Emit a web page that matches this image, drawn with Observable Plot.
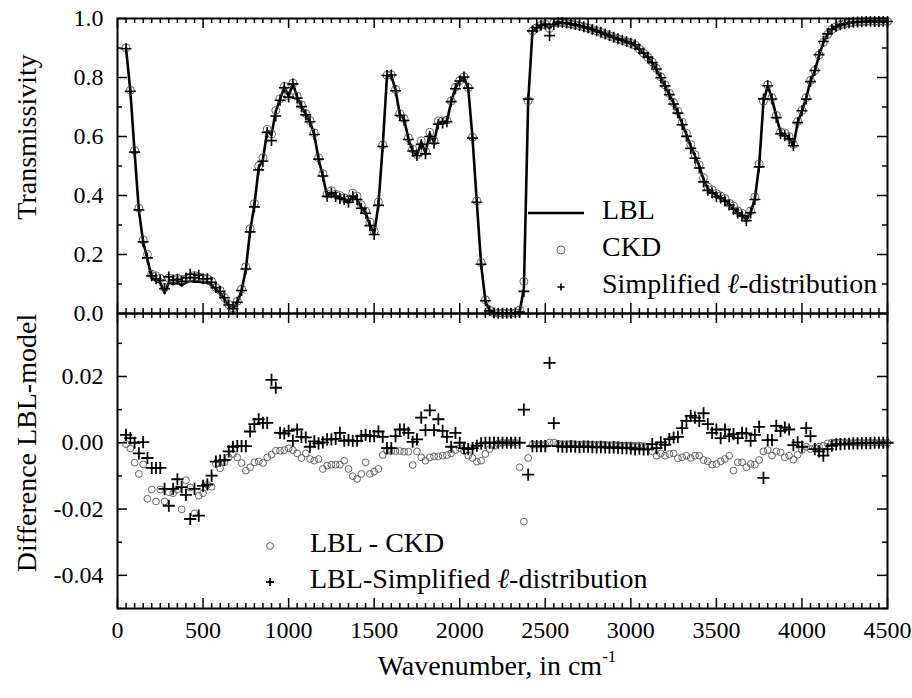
<!DOCTYPE html>
<html><head><meta charset="utf-8">
<script src="https://cdn.jsdelivr.net/npm/d3@7"></script>
<script src="https://cdn.jsdelivr.net/npm/@observablehq/plot@0.6"></script>
<style>
html,body{margin:0;padding:0;background:#fff;}
#chart{width:912px;height:698px;position:relative;overflow:hidden;background:#fff;}
#chart svg{display:block;}
#overlay{position:absolute;left:0;top:0;pointer-events:none;}
</style></head><body><div id="chart"></div>
<script>
// Wavenumber grid (cm-1)
const wavenumber = [
  50,75,100,125,150,175,200,225,250,275,
  300,325,350,375,400,425,450,475,500,525,
  550,575,600,625,650,675,700,725,750,775,
  800,825,850,875,900,925,950,975,1000,1025,
  1050,1075,1100,1125,1150,1175,1200,1225,1250,1275,
  1300,1325,1350,1375,1400,1425,1450,1475,1500,1525,
  1550,1575,1600,1625,1650,1675,1700,1725,1750,1775,
  1800,1825,1850,1875,1900,1925,1950,1975,2000,2025,
  2050,2075,2100,2125,2150,2175,2200,2225,2250,2275,
  2300,2325,2350,2375,2400,2425,2450,2475,2500,2525,
  2550,2575,2600,2625,2650,2675,2700,2725,2750,2775,
  2800,2825,2850,2875,2900,2925,2950,2975,3000,3025,
  3050,3075,3100,3125,3150,3175,3200,3225,3250,3275,
  3300,3325,3350,3375,3400,3425,3450,3475,3500,3525,
  3550,3575,3600,3625,3650,3675,3700,3725,3750,3775,
  3800,3825,3850,3875,3900,3925,3950,3975,4000,4025,
  4050,4075,4100,4125,4150,4175,4200,4225,4250,4275,
  4300,4325,4350,4375,4400,4425,4450,4475,4500
];
// LBL transmissivity
const lblTransmissivity = [
  0.90,0.755,0.547,0.348,0.243,0.184,0.12,0.11,0.105,0.07,
  0.105,0.10,0.105,0.096,0.105,0.11,0.108,0.108,0.105,0.105,
  0.096,0.082,0.07,0.048,0.026,0.015,0.037,0.077,0.15,0.28,
  0.367,0.494,0.522,0.62,0.605,0.686,0.726,0.768,0.737,0.779,
  0.734,0.703,0.675,0.649,0.607,0.523,0.466,0.398,0.41,0.398,
  0.393,0.387,0.378,0.398,0.387,0.359,0.342,0.30,0.27,0.37,
  0.568,0.805,0.807,0.757,0.675,0.658,0.593,0.551,0.536,0.581,
  0.545,0.61,0.581,0.649,0.649,0.652,0.717,0.765,0.788,0.80,
  0.762,0.593,0.376,0.167,0.043,0.009,0.002,0.001,0.001,0.001,
  0.001,0.002,0.005,0.085,0.717,0.957,0.968,0.976,0.98,0.966,
  0.985,0.986,0.985,0.983,0.981,0.978,0.975,0.971,0.967,0.962,
  0.957,0.952,0.946,0.941,0.935,0.93,0.925,0.92,0.915,0.909,
  0.895,0.881,0.867,0.85,0.827,0.799,0.771,0.743,0.712,0.681,
  0.644,0.607,0.568,0.534,0.50,0.455,0.423,0.412,0.40,0.393,
  0.385,0.37,0.356,0.342,0.334,0.317,0.342,0.389,0.502,0.717,
  0.773,0.728,0.669,0.613,0.607,0.596,0.568,0.647,0.686,0.731,
  0.788,0.822,0.875,0.918,0.946,0.963,0.972,0.978,0.982,0.985,
  0.987,0.988,0.989,0.99,0.99,0.99,0.99,0.99,0.99
];
// Difference LBL - CKD
const diffCKD = [
  -0.0004,-0.0017,-0.006,-0.0094,-0.0065,-0.0169,-0.0141,-0.0177,-0.0141,-0.0177,
  -0.0149,-0.0152,-0.0141,-0.0201,-0.0113,-0.0135,-0.0213,-0.016,-0.0152,-0.0127,
  -0.0133,-0.0064,-0.0077,-0.0059,-0.0044,-0.0034,-0.0044,-0.0061,-0.0084,-0.0074,
  -0.0059,-0.0056,-0.0061,-0.0044,-0.0036,-0.0024,-0.0024,-0.0022,-0.0017,-0.0022,
  -0.0032,-0.0046,-0.0032,-0.0049,-0.0054,-0.0049,-0.0079,-0.0069,-0.0066,-0.0066,
  -0.0066,-0.0054,-0.0079,-0.0101,-0.0109,-0.0094,-0.0059,-0.0094,-0.0087,-0.0079,
  -0.0037,-0.0024,-0.0025,-0.0025,-0.0025,-0.0027,-0.0027,-0.0067,-0.0026,-0.0044,
  -0.0054,-0.0044,-0.0041,-0.0041,-0.0039,-0.0037,-0.0032,-0.0022,-0.0016,-0.0024,
  -0.0039,-0.0046,-0.0057,-0.0054,-0.0034,-0.0019,-0.0009,-0.0002,0,0,
  0,0,-0.0074,-0.0238,-0.0046,-0.0006,-0.0006,-0.0006,-0.0006,0.0001,
  0.0001,-0.0003,-0.0004,-0.0004,-0.0003,-0.0004,-0.0005,-0.0004,-0.0004,-0.0005,
  -0.0006,-0.0005,-0.0006,-0.0007,-0.0006,-0.0007,-0.0008,-0.0008,-0.0008,-0.0009,
  -0.0008,-0.001,-0.0012,-0.0026,-0.0039,-0.0032,-0.0039,-0.0034,-0.0032,-0.0047,
  -0.0044,-0.0039,-0.0046,-0.0039,-0.0039,-0.0052,-0.0056,-0.0066,-0.0064,-0.0056,
  -0.0049,-0.0039,-0.0084,-0.0059,-0.0059,-0.0074,-0.0064,-0.0066,-0.0052,-0.0026,
  -0.0022,-0.0039,-0.0026,-0.0029,-0.0044,-0.0039,-0.0051,-0.0036,-0.0022,-0.0012,
  -0.0019,-0.0016,-0.0012,-0.0009,-0.0002,0.0001,0.0001,0.0001,0,0,
  0,0,0,0,0,0,0,0,0
];
// Difference LBL - Simplified l-distribution
const diffSimplified = [
  0.0024,0.0014,0.0000,-0.0032,0.0002,-0.0046,-0.0076,-0.0076,-0.0076,-0.0139,
  -0.019,-0.0139,-0.011,-0.0134,-0.0157,-0.023,-0.0139,-0.022,-0.013,-0.0126,
  -0.0099,-0.0057,-0.0054,-0.0052,-0.0026,-0.0012,-0.001,-0.001,-0.001,0.0034,
  0.0056,0.0071,0.006,0.006,0.019,0.0166,0.003,0.0028,0.0036,0.0006,
  0.004,0.0018,0.0016,-0.0012,0.0004,-0.0002,0.0001,0.001,0.001,0.0012,
  0.003,0.0006,0.0008,0.0006,0.0006,0.002,0.0024,0.002,0.002,0.0034,
  0.0018,-0.0016,-0.0016,0.002,0.004,0.004,0.003,0.0003,0.001,0.0076,
  0.0038,0.0098,0.0038,0.0071,0.0036,0.0018,-0.0012,0.003,0.0000,-0.0016,
  -0.0019,-0.0016,-0.0009,-0.0002,0,0,0,0,0,0,
  0,0,0,0.010,-0.0096,-0.001,-0.001,-0.001,-0.001,0.0241,
  0.0059,-0.001,-0.0012,-0.0012,-0.0011,-0.0012,-0.0013,-0.0012,-0.0012,-0.0013,
  -0.0014,-0.0013,-0.0014,-0.0015,-0.0014,-0.0015,-0.0016,-0.0016,-0.0017,-0.002,
  -0.0018,-0.002,-0.002,-0.0004,-0.0016,0.0001,-0.0006,0.0011,0.0016,0.0018,
  0.0044,0.0066,0.0081,0.0076,0.0066,0.0089,0.0056,0.003,0.004,0.0014,
  0.004,0.002,0.0026,0.0014,0.003,0.0028,0.0006,0.0024,0.0048,-0.0106,
  0.0008,0.0008,0.0051,0.0036,0.0046,0.004,-0.0007,0.0001,-0.0012,0.0044,
  0.002,-0.0019,-0.0026,-0.0039,-0.0019,-0.0009,-0.0005,-0.0004,-0.0003,-0.0003,
  -0.0002,-0.0002,-0.0001,-0.0001,-0.0001,0,0,0,0
];
// Axis ticks
const xTicks = [0,500,1000,1500,2000,2500,3000,3500,4000,4500];
const xMinorTicks = d3.range(0, 4501, 50).filter(v => v % 500 !== 0);
const transTicks = [0,0.2,0.4,0.6,0.8,1.0];
const transMinorTicks = [0.1,0.3,0.5,0.7,0.9];
const diffTicks = [-0.04,-0.02,0,0.02];
const diffMinorTicks = [-0.05,-0.03,-0.01,0.01,0.03];

// Table (model = LBL - difference, by definition of the plotted difference)
const rows = wavenumber.map((w, i) => ({
  w,
  lbl: lblTransmissivity[i],
  ckd: lblTransmissivity[i] - diffCKD[i],
  simp: lblTransmissivity[i] - diffSimplified[i],
  dCKD: diffCKD[i],
  dSimp: diffSimplified[i]
}));

const W = 912, ML = 117, MR = 25, innerW = W - ML - MR;
const FONT = "'Liberation Serif', 'Times New Roman', serif";
const H1 = 313, MT1 = 18, innerH1 = H1 - MT1;
const H2 = 385, MB2 = 90, innerH2 = H2 - MB2;

function tickMarks(innerH) {
  const M = 10, m = 5, sw = 1.5;
  const o = (extra) => Object.assign({stroke: "black", strokeWidth: sw}, extra);
  return (yMaj, yMin) => [
    Plot.ruleX(xTicks, o({x: d => d, insetBottom: innerH - M})),
    Plot.ruleX(xTicks, o({x: d => d, insetTop: innerH - M})),
    Plot.ruleX(xMinorTicks, o({x: d => d, insetBottom: innerH - m})),
    Plot.ruleX(xMinorTicks, o({x: d => d, insetTop: innerH - m})),
    Plot.ruleY(yMaj, o({y: d => d, insetRight: innerW - M})),
    Plot.ruleY(yMaj, o({y: d => d, insetLeft: innerW - M})),
    Plot.ruleY(yMin, o({y: d => d, insetRight: innerW - m})),
    Plot.ruleY(yMin, o({y: d => d, insetLeft: innerW - m}))
  ];
}

const plotStyle = {fontFamily: FONT, fontSize: "24px", background: "transparent", color: "black", overflow: "visible"};

const topPlot = Plot.plot({
  width: W, height: H1,
  marginLeft: ML, marginRight: MR, marginTop: MT1, marginBottom: 0,
  style: plotStyle,
  x: {domain: [0, 4500], axis: null},
  y: {domain: [0, 1]},
  marks: [
    ...tickMarks(innerH1)(transTicks, transMinorTicks),
    Plot.axisY(transTicks, {anchor: "left", tickSize: 0, tickPadding: 14, tickFormat: d => d.toFixed(1), label: null, fontSize: 24}),
    Plot.line(rows, {x: "w", y: "lbl", stroke: "black", strokeWidth: 2.6}),
    Plot.dot(rows, {x: "w", y: "ckd", r: 4, stroke: "#555", strokeWidth: 0.9, fill: "none"}),
    Plot.dot(rows, {x: "w", y: "simp", symbol: "plus", r: 3.6, stroke: "black", strokeWidth: 1.6}),
    Plot.frame({stroke: "black", strokeWidth: 2})
  ]
});

const bottomPlot = Plot.plot({
  width: W, height: H2,
  marginLeft: ML, marginRight: MR, marginTop: 0, marginBottom: MB2,
  style: plotStyle,
  x: {domain: [0, 4500]},
  y: {domain: [-0.05, 0.039]},
  marks: [
    ...tickMarks(innerH2)(diffTicks, diffMinorTicks),
    Plot.axisY(diffTicks, {anchor: "left", tickSize: 0, tickPadding: 14, tickFormat: d => d.toFixed(2), label: null, fontSize: 24}),
    Plot.axisX(xTicks, {anchor: "bottom", tickSize: 0, tickPadding: 12, tickFormat: d => String(d), label: null, fontSize: 24}),
    Plot.dot(rows, {x: "w", y: "dCKD", r: 3.4, stroke: "#555", strokeWidth: 0.9, fill: "none"}),
    Plot.dot(rows, {x: "w", y: "dSimp", symbol: "plus", r: 4, stroke: "black", strokeWidth: 1.8}),
    Plot.frame({stroke: "black", strokeWidth: 2})
  ]
});

const chart = document.getElementById("chart");
chart.appendChild(topPlot);
chart.appendChild(bottomPlot);

// Overlay: axis titles and legends
const ov = d3.select(chart).append("svg").attr("id", "overlay")
  .attr("width", W).attr("height", 698)
  .style("font-family", FONT).style("fill", "black");

ov.append("text").attr("transform", "translate(30,137) rotate(-90)")
  .attr("text-anchor", "middle").attr("dominant-baseline", "middle")
  .attr("font-size", 28).text("Transmissivity");
ov.append("text").attr("transform", "translate(30,443) rotate(-90)")
  .attr("text-anchor", "middle").attr("dominant-baseline", "middle")
  .attr("font-size", 28).text("Difference LBL-model");
const xt = ov.append("text").attr("x", 497).attr("y", 669)
  .attr("text-anchor", "middle").attr("dominant-baseline", "middle")
  .attr("font-size", 28);
xt.append("tspan").text("Wavenumber, in cm");
xt.append("tspan").attr("font-size", 17).attr("dy", -11).text("-1");

// Top legend
const lg = ov.append("g").attr("font-size", 28);
function legendText(x, y, before, after) {
  const t = lg.append("text").attr("x", x).attr("y", y).attr("dominant-baseline", "middle");
  t.append("tspan").text(before);
  if (after != null) {
    t.append("tspan").attr("font-style", "italic").attr("font-weight", "normal").text("ℓ");
    t.append("tspan").text(after);
  }
}
lg.append("line").attr("x1", 528).attr("x2", 584).attr("y1", 213).attr("y2", 213)
  .attr("stroke", "black").attr("stroke-width", 2.6);
legendText(602, 213, "LBL");
lg.append("circle").attr("cx", 561).attr("cy", 250).attr("r", 4)
  .attr("fill", "none").attr("stroke", "#555").attr("stroke-width", 0.9);
legendText(602, 250, "CKD");
lg.append("path").attr("d", "M557.4,287H564.6M561,283.4V290.6")
  .attr("stroke", "black").attr("stroke-width", 1.6);
legendText(602, 287, "Simplified ", "-distribution");

// Bottom legend
lg.append("circle").attr("cx", 270).attr("cy", 546).attr("r", 3.4)
  .attr("fill", "none").attr("stroke", "#555").attr("stroke-width", 0.9);
legendText(310, 546, "LBL - CKD");
lg.append("path").attr("d", "M266,582H274M270,578V586")
  .attr("stroke", "black").attr("stroke-width", 1.8);
legendText(310, 582, "LBL-Simplified ", "-distribution");
</script>
</body></html>
